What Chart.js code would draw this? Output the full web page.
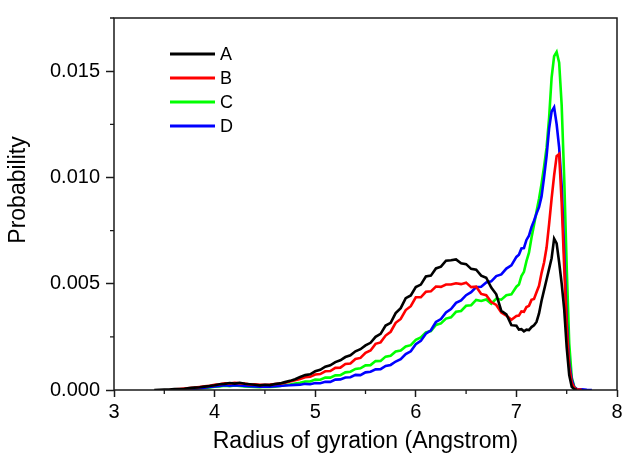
<!DOCTYPE html>
<html>
<head>
<meta charset="utf-8">
<script src="https://cdn.jsdelivr.net/npm/chart.js@4/dist/chart.umd.min.js"></script>
<style>
  html, body { margin: 0; padding: 0; background: #fff; }
  #c { display: block; }
</style>
</head>
<body>
<canvas id="c" width="631" height="459"></canvas>
<script>
const radius = [
  3.40,3.45,3.50,3.55,3.60,3.65,3.70,3.75,3.80,3.85,
  3.90,3.95,4.00,4.05,4.10,4.15,4.20,4.25,4.30,4.35,
  4.40,4.45,4.50,4.55,4.60,4.65,4.70,4.75,4.80,4.85,
  4.90,4.95,5.00,5.05,5.10,5.15,5.20,5.25,5.30,5.35,
  5.40,5.45,5.50,5.55,5.60,5.65,5.70,5.75,5.80,5.85,
  5.90,5.95,6.00,6.05,6.10,6.15,6.20,6.25,6.30,6.35,
  6.40,6.45,6.50,6.55,6.60,6.65,6.70,6.75,6.80,6.85,
  6.90,6.95,7.000,7.025,7.050,7.075,7.100,7.125,7.150,7.175,
  7.200,7.225,7.250,7.275,7.300,7.325,7.350,7.375,7.400,7.425,
  7.450,7.475,7.500,7.525,7.550,7.575,7.600,7.65,7.70,7.75,
  7.80
];

const probA = [
  0.00000,0.00001,0.00002,0.00002,0.00004,0.00005,0.00006,0.00009,0.00011,0.00013,
  0.00016,0.00019,0.00022,0.00027,0.00029,0.00033,0.00030,0.00034,0.00029,0.00027,
  0.00025,0.00022,0.00025,0.00023,0.00028,0.00031,0.00037,0.00043,0.00051,0.00061,
  0.00070,0.00074,0.00088,0.00095,0.00110,0.00116,0.00131,0.00140,0.00155,0.00163,
  0.00182,0.00192,0.00210,0.00222,0.00250,0.00264,0.00303,0.00316,0.00362,0.00385,
  0.00432,0.00445,0.00484,0.00496,0.00534,0.00538,0.00572,0.00580,0.00608,0.00610,
  0.00614,0.00596,0.00592,0.00570,0.00566,0.00538,0.00528,0.00482,0.00450,0.00372,
  0.00356,0.00305,0.00302,0.00284,0.00286,0.00276,0.00284,0.00282,0.00296,0.00304,
  0.00320,0.00360,0.00420,0.00470,0.00520,0.00570,0.00620,0.00712,0.00690,0.00600,
  0.00500,0.00380,0.00200,0.00070,0.00015,0.00004,0.00001,null,null,null,
  null
];

const probB = [
  null,null,null,0.00000,0.00003,0.00005,0.00007,0.00009,0.00011,0.00014,
  0.00017,0.00020,0.00024,0.00027,0.00031,0.00030,0.00034,0.00031,0.00030,0.00026,
  0.00027,0.00024,0.00025,0.00026,0.00028,0.00030,0.00034,0.00040,0.00046,0.00052,
  0.00060,0.00062,0.00073,0.00075,0.00088,0.00089,0.00104,0.00105,0.00122,0.00125,
  0.00146,0.00151,0.00175,0.00186,0.00217,0.00224,0.00256,0.00274,0.00316,0.00334,
  0.00376,0.00394,0.00436,0.00436,0.00462,0.00464,0.00487,0.00485,0.00496,0.00496,
  0.00502,0.00498,0.00505,0.00484,0.00486,0.00452,0.00446,0.00414,0.00400,0.00364,
  0.00350,0.00330,0.00348,0.00350,0.00370,0.00368,0.00390,0.00396,0.00424,0.00428,
  0.00460,0.00490,0.00550,0.00600,0.00670,0.00780,0.00900,0.01010,0.01100,0.01110,
  0.00880,0.00580,0.00300,0.00110,0.00035,0.00010,0.00003,0.00001,null,null,
  null
];

const probC = [
  null,null,null,null,null,0.00000,0.00002,0.00004,0.00006,0.00008,
  0.00010,0.00012,0.00015,0.00017,0.00020,0.00018,0.00021,0.00019,0.00017,0.00016,
  0.00014,0.00013,0.00015,0.00014,0.00016,0.00019,0.00022,0.00026,0.00030,0.00034,
  0.00040,0.00040,0.00049,0.00048,0.00059,0.00058,0.00069,0.00070,0.00083,0.00086,
  0.00099,0.00102,0.00116,0.00117,0.00136,0.00137,0.00157,0.00161,0.00181,0.00186,
  0.00205,0.00211,0.00236,0.00247,0.00271,0.00277,0.00306,0.00313,0.00336,0.00342,
  0.00368,0.00372,0.00396,0.00399,0.00424,0.00419,0.00426,0.00406,0.00430,0.00425,
  0.00446,0.00450,0.00486,0.00496,0.00536,0.00556,0.00606,0.00646,0.00716,0.00776,
  0.00840,0.00900,0.00970,0.01050,0.01140,0.01280,0.01470,0.01570,0.01590,0.01540,
  0.01340,0.01000,0.00580,0.00220,0.00060,0.00015,0.00004,0.00001,null,null,
  null
];

const probD = [
  null,null,null,null,null,0.00000,0.00002,0.00004,0.00006,0.00009,
  0.00011,0.00014,0.00017,0.00019,0.00022,0.00020,0.00023,0.00021,0.00019,0.00018,
  0.00017,0.00016,0.00017,0.00016,0.00018,0.00019,0.00021,0.00022,0.00024,0.00025,
  0.00029,0.00027,0.00033,0.00032,0.00039,0.00038,0.00049,0.00050,0.00059,0.00060,
  0.00071,0.00070,0.00083,0.00086,0.00097,0.00098,0.00113,0.00118,0.00134,0.00145,
  0.00169,0.00182,0.00215,0.00231,0.00265,0.00281,0.00320,0.00334,0.00365,0.00381,
  0.00410,0.00421,0.00446,0.00460,0.00484,0.00486,0.00506,0.00511,0.00536,0.00544,
  0.00571,0.00586,0.00626,0.00636,0.00666,0.00668,0.00706,0.00726,0.00766,0.00796,
  0.00830,0.00860,0.00910,0.01000,0.01100,0.01230,0.01310,0.01330,0.01250,0.01140,
  0.00960,0.00650,0.00330,0.00130,0.00050,0.00012,0.00005,0.00003,0.00001,0.00000,
  null
];

const seriesNames = ['A', 'B', 'C', 'D'];
const seriesColors = ['#000000', '#ff0000', '#00ff00', '#0000ff'];
const seriesValues = [probA, probB, probC, probD];
const drawOrder = [0, 1, 3, 2];

const xTicks = [3, 4, 5, 6, 7, 8];
const yTicks = [0.000, 0.005, 0.010, 0.015];
const yTitle = 'Probability';
const xTitle = 'Radius of gyration (Angstrom)';

const FONT = "'Liberation Sans', Arial, sans-serif";
const AXIS = '#1a1a1a';

const datasets = seriesValues.map((vals, k) => ({
  label: seriesNames[k],
  data: radius.map((x, i) => ({ x: x, y: vals[i] })),
  borderColor: seriesColors[k],
  backgroundColor: seriesColors[k],
  borderWidth: 2.6,
  pointRadius: 0,
  tension: 0,
  spanGaps: false,
  order: drawOrder[k]
}));

const framePlugin = {
  id: 'frame',
  afterDatasetsDraw(chart) {
    const { ctx, chartArea: a, scales: { x, y } } = chart;
    ctx.save();
    ctx.strokeStyle = AXIS;
    ctx.lineWidth = 1.5;
    ctx.beginPath();
    ctx.rect(a.left, a.top, a.right - a.left, a.bottom - a.top);
    ctx.stroke();
    // minor ticks
    ctx.lineWidth = 1.3;
    ctx.beginPath();
    for (let i = 0; i < xTicks.length - 1; i++) {
      const px = x.getPixelForValue((xTicks[i] + xTicks[i + 1]) / 2);
      ctx.moveTo(px, a.bottom);
      ctx.lineTo(px, a.bottom + 4);
    }
    for (let i = 0; i < yTicks.length; i++) {
      const v = yTicks[i] + 0.0025;
      const py = y.getPixelForValue(v);
      ctx.moveTo(a.left, py);
      ctx.lineTo(a.left - 4, py);
    }
    ctx.stroke();
    // y axis title (slightly above the plot centre, as in the original)
    ctx.save();
    ctx.translate(19, 190);
    ctx.rotate(-Math.PI / 2);
    ctx.font = '23px ' + FONT;
    ctx.fillStyle = '#000';
    ctx.textAlign = 'center';
    ctx.textBaseline = 'middle';
    ctx.fillText(yTitle, 0, 0);
    ctx.restore();
    // legend
    const lx = 170, ly0 = 54, dy = 24;
    ctx.font = '18px ' + FONT;
    ctx.textBaseline = 'middle';
    ctx.textAlign = 'left';
    seriesNames.forEach((n, k) => {
      const ly = ly0 + k * dy;
      ctx.strokeStyle = seriesColors[k];
      ctx.lineWidth = 3;
      ctx.beginPath();
      ctx.moveTo(lx, ly);
      ctx.lineTo(lx + 45, ly);
      ctx.stroke();
      ctx.fillStyle = '#000';
      ctx.fillText(n, lx + 50, ly + 1);
    });
    ctx.restore();
  }
};

new Chart(document.getElementById('c'), {
  type: 'line',
  data: { datasets },
  options: {
    responsive: false,
    animation: false,
    devicePixelRatio: 1,
    layout: { padding: { top: 9, right: 14, left: 0, bottom: 0 } },
    plugins: { legend: { display: false }, tooltip: { enabled: false } },
    scales: {
      x: {
        type: 'linear',
        min: 3, max: 8,
        afterBuildTicks: (s) => { s.ticks = xTicks.map(v => ({ value: v })); },
        afterFit: (s) => { s.height = 69; },
        ticks: {
          color: '#000', padding: 3,
          font: { family: FONT, size: 20 },
          callback: (v) => String(v)
        },
        grid: { drawOnChartArea: false, drawTicks: true, tickLength: 7, tickColor: AXIS, tickWidth: 1.5 },
        border: { display: false },
        title: {
          display: true, text: xTitle, color: '#000',
          font: { family: FONT, size: 23 }, padding: { top: 0, bottom: 4 }
        }
      },
      y: {
        type: 'linear',
        min: 0, max: 0.0175,
        afterBuildTicks: (s) => { s.ticks = yTicks.map(v => ({ value: v })); },
        afterFit: (s) => { s.width = 114; },
        ticks: {
          color: '#000', padding: 6,
          font: { family: FONT, size: 20 },
          callback: (v) => Number(v).toFixed(3)
        },
        grid: { drawOnChartArea: false, drawTicks: true, tickLength: 8, tickColor: AXIS, tickWidth: 1.5 },
        border: { display: false },
        title: { display: false }
      }
    }
  },
  plugins: [framePlugin]
});
</script>
</body>
</html>
